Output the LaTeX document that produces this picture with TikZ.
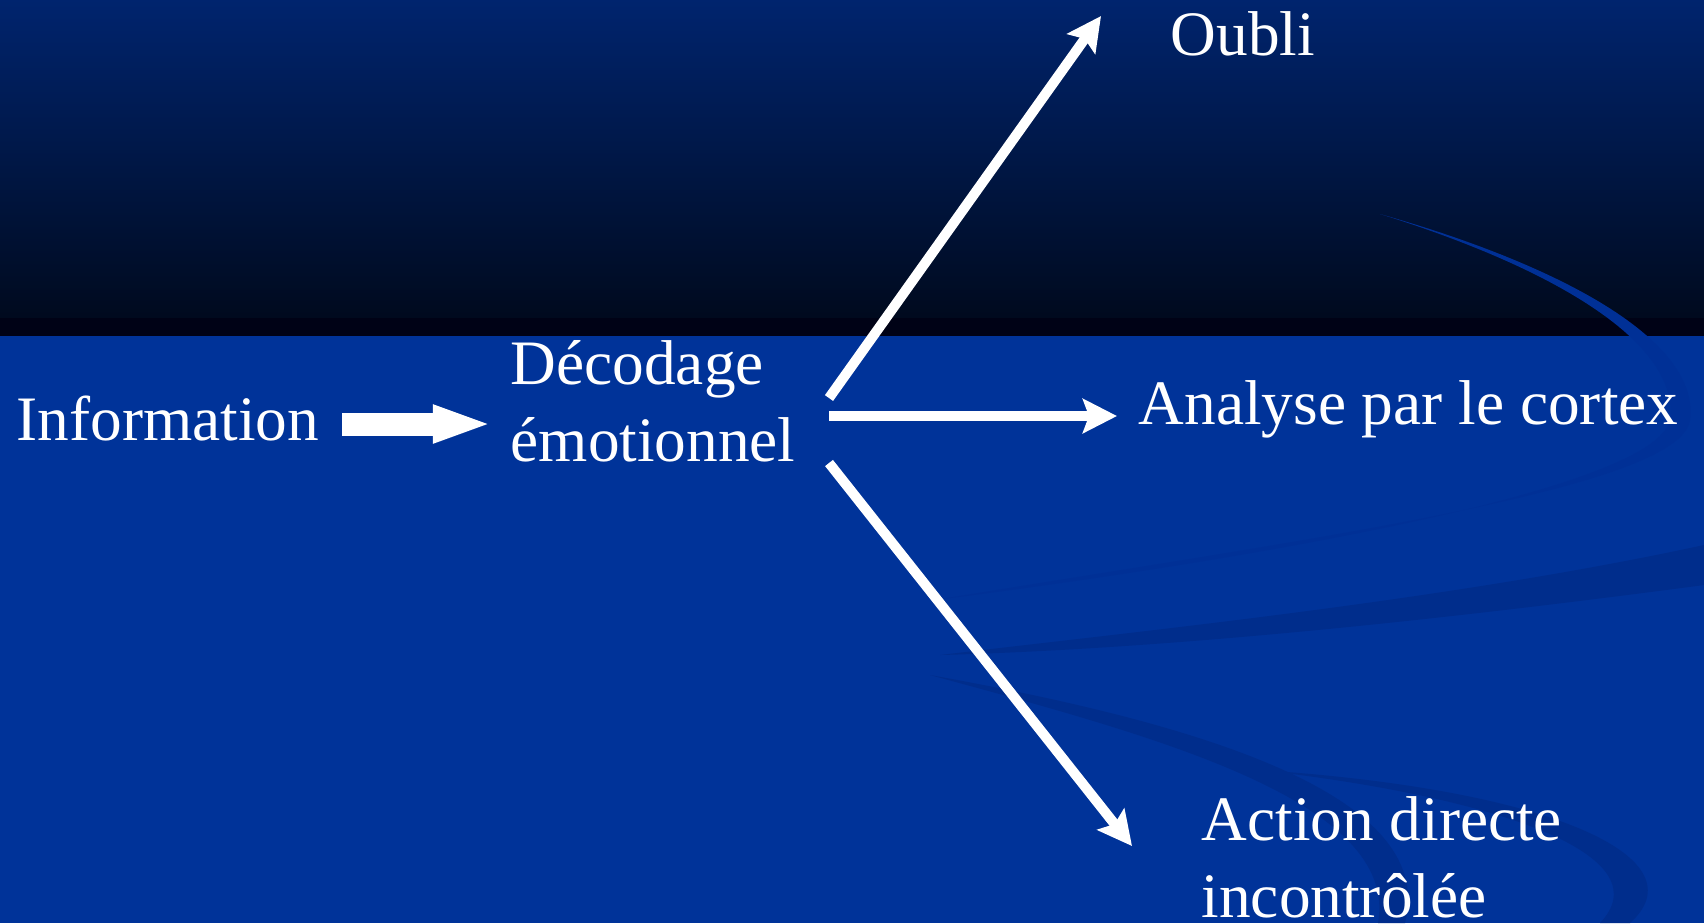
\documentclass[tikz,border=0pt]{standalone}
\usepackage{fontspec}
\setmainfont{Liberation Serif}
\usetikzlibrary{arrows.meta}
\definecolor{slideblue}{RGB}{0,51,153}
\definecolor{topblue}{RGB}{0,36,110}
\definecolor{topdark}{RGB}{0,10,30}
\definecolor{stripdark}{RGB}{0,2,22}
\definecolor{swoosh}{RGB}{0,45,140}
\definecolor{swooshline}{RGB}{0,48,150}

\begin{document}
\begin{tikzpicture}[x=0.01cm,y=-0.01cm,line join=round,>={Stealth[length=0.34cm,width=0.34cm,inset=0.06cm]}]
    \tikzset{every node/.style={text=white,inner sep=0pt,font=\fontsize{18}{21.9}\selectfont},
      lbl/.style={anchor=base west,align=left},
      thinarrow/.style={->,white,line width=0.1cm},
      bigarrow/.style={white,line width=0.23cm,-{Triangle[length=0.6cm,width=0.34cm]}}}
    % background
    \useasboundingbox (0,0) rectangle (1704,923);
    \shade[top color=topblue,bottom color=topdark] (0,0) rectangle (1704,318);
    \fill[stripdark] (0,318) rectangle (1704,336);
    \fill[slideblue] (0,336) rectangle (1704,923);
    % swooshes
    \fill[swooshline] (1380,214) .. controls (1560,265) and (1700,340) .. (1690,420)
        .. controls (1680,490) and (1300,540) .. (935,600)
        .. controls (1250,560) and (1655,490) .. (1670,420)
        .. controls (1680,345) and (1560,270) .. cycle;
    \fill[swoosh] (1704,545) .. controls (1450,600) and (1150,630) .. (940,655)
        .. controls (1200,648) and (1500,612) .. (1704,585) -- cycle;
    \fill[swoosh] (930,675) .. controls (1180,720) and (1440,790) .. (1405,923)
        -- (1378,923) .. controls (1400,800) and (1150,735) .. cycle;
    \fill[swoosh] (1260,770) .. controls (1560,790) and (1700,860) .. (1630,923)
        -- (1600,923) .. controls (1660,860) and (1520,800) .. cycle;
    % labels
    \node[lbl] (info) at (16,440) {Information};
    \node[lbl] (decod) at (510,461) {Décodage\\émotionnel};
    \node[lbl] (oubli) at (1170,55) {Oubli};
    \node[lbl] (cortex) at (1138,424) {Analyse par le cortex};
    \node[lbl] (action) at (1201,917) {Action directe\\incontrôlée};
    % arrow ends
    \coordinate (infoR) at (342,424);
    \coordinate (decodL) at (493,424);
    \coordinate (up0) at (829,398);
    \coordinate (up1) at (1101,16);
    \coordinate (mid0) at (829,416);
    \coordinate (mid1) at (1117,416);
    \coordinate (low0) at (829,463);
    \coordinate (low1) at (1132,846);
    \draw[bigarrow] (infoR) -- (decodL);
    \foreach \s/\t in {up0/up1,mid0/mid1,low0/low1}
    \draw[thinarrow] (\s) -- (\t);
\end{tikzpicture}
\end{document}
